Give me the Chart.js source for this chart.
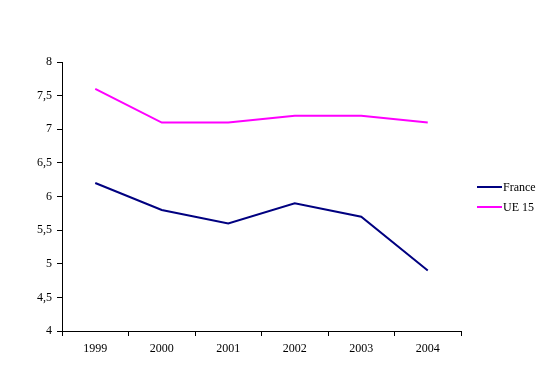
<!DOCTYPE html>
<html>
<head>
<meta charset="utf-8">
<script src="https://cdn.jsdelivr.net/npm/chart.js@4"></script>
<style>
html,body{margin:0;padding:0;background:#fff;}
canvas{display:block;}
</style>
</head>
<body>
<canvas id="c" width="549" height="376"></canvas>
<script>
const categories = ['1999', '2000', '2001', '2002', '2003', '2004'];
const franceValues = [6.2, 5.8, 5.6, 5.9, 5.7, 4.9];
const ue15Values = [7.6, 7.1, 7.1, 7.2, 7.2, 7.1];
const seriesNames = ['France', 'UE 15'];
const yTickMin = 4, yTickMax = 8, yTickStep = 0.5;

const FONT = "'Liberation Serif', 'Times New Roman', serif";

const legendPlugin = {
  id: 'sideLegend',
  afterDraw(chart) {
    const ctx = chart.ctx;
    const x0 = 477, x1 = 502, tx = 503;
    const ys = [187, 207];
    ctx.save();
    chart.data.datasets.forEach((ds, i) => {
      ctx.strokeStyle = ds.borderColor;
      ctx.lineWidth = 2;
      ctx.beginPath();
      ctx.moveTo(x0, ys[i]);
      ctx.lineTo(x1, ys[i]);
      ctx.stroke();
      ctx.fillStyle = '#000';
      ctx.font = '12px ' + FONT;
      ctx.textBaseline = 'middle';
      ctx.textAlign = 'left';
      ctx.fillText(ds.label, tx, ys[i] + 1);
    });
    ctx.restore();
  }
};

new Chart(document.getElementById('c'), {
  type: 'line',
  data: {
    labels: categories,
    datasets: [
      { label: seriesNames[0], data: franceValues, borderColor: '#000080', backgroundColor: '#000080', borderWidth: 2, pointRadius: 0, tension: 0, fill: false },
      { label: seriesNames[1], data: ue15Values, borderColor: '#FF00FF', backgroundColor: '#FF00FF', borderWidth: 2, pointRadius: 0, tension: 0, fill: false }
    ]
  },
  options: {
    responsive: false,
    animation: false,
    devicePixelRatio: 1,
    layout: { padding: { left: 0, top: 62, right: 88, bottom: 0 } },
    plugins: { legend: { display: false }, tooltip: { enabled: false } },
    scales: {
      x: {
        offset: true,
        grid: { display: true, drawOnChartArea: false, drawTicks: true, tickLength: 5, color: '#000', offset: true },
        border: { display: true, color: '#000', width: 1 },
        ticks: { color: '#000', font: { family: FONT, size: 12 }, padding: 6, maxRotation: 0 },
        afterFit(scale) { scale.height = 45; }
      },
      y: {
        min: yTickMin, max: yTickMax,
        grid: { display: true, drawOnChartArea: false, drawTicks: true, tickLength: 5, color: '#000' },
        border: { display: true, color: '#000', width: 1 },
        ticks: {
          stepSize: yTickStep, color: '#000', font: { family: FONT, size: 12 }, padding: 5,
          callback: v => String(v).replace('.', ',')
        },
        afterFit(scale) { scale.width = 62; }
      }
    }
  },
  plugins: [legendPlugin]
});
</script>
</body>
</html>
